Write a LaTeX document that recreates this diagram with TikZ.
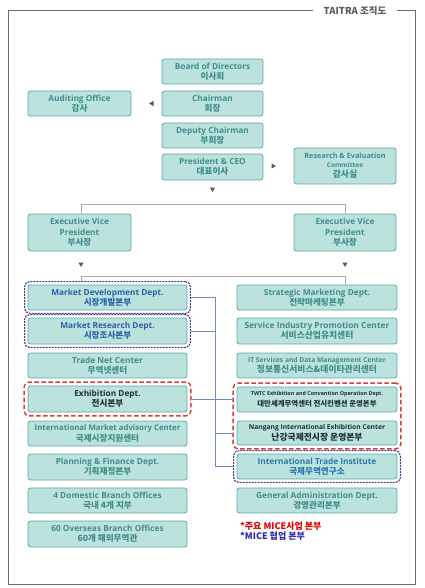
\documentclass[tikz,border=0pt]{standalone}
\usepackage{fontspec}
\setmainfont{Open Sans}
\newfontfamily\krf{Noto Sans CJK KR}
\usetikzlibrary{fit,shapes.geometric}
\definecolor{boxfill}{HTML}{BCE2DE}
\definecolor{boxdraw}{HTML}{5EA9A4}
\definecolor{tealtxt}{HTML}{3F8E8A}
\definecolor{bluetxt}{HTML}{2B62A8}
\definecolor{darktxt}{HTML}{1C3034}
\definecolor{itibl}{HTML}{2A78B0}
\definecolor{purp}{HTML}{45358A}
\definecolor{redd}{HTML}{D93A3A}
\definecolor{conn}{HTML}{6F8FB6}
\definecolor{greyl}{HTML}{A8A8A8}
\definecolor{frame}{HTML}{6A6A6A}
\newcommand\en[2][8.3]{{\fontsize{#1}{10}\selectfont #2}}
\newcommand\kr[2][8.6]{{\krf\bfseries\fontsize{#1}{10}\selectfont #2}}
\tikzset{
  box/.style={draw=boxdraw, fill=boxfill, line width=0.8pt, rounded corners=2.5pt,
    align=center, inner sep=0pt, text=tealtxt, font=\fontsize{8.3}{10.3}\selectfont\bfseries},
  topbox/.style={box, minimum width=101pt, minimum height=25pt},
  colbox/.style={box, minimum width=159pt, minimum height=25pt},
  rbox/.style={colbox, minimum width=160pt},
  purpframe/.style={draw=purp, dash pattern=on 2pt off 1pt, line width=1.1pt, rounded corners=5pt, inner sep=3pt},
  redframe/.style={draw=redd, dash pattern=on 4.5pt off 2.5pt, line width=1.4pt, rounded corners=5pt, inner sep=3.5pt},
  tri/.style={fill=black!65, isosceles triangle, isosceles triangle apex angle=60, inner sep=0pt, minimum height=4.5pt},
  gline/.style={draw=greyl, line width=0.7pt},
  bline/.style={draw=conn, line width=0.8pt}
}
\begin{document}
\begin{tikzpicture}[x=1pt,y=-1pt]
\useasboundingbox (0,0) rectangle (424,588);
% outer frame
\coordinate (f1) at (313,10.7);
\coordinate (f2) at (397,10.7);
\draw[draw=frame, line width=0.8pt] (f1) -- (8.3,10.7) -- (8.3,584) -- (415,584) -- (415,10.7) -- (f2);
\node[text=black!65, font=\krf\bfseries\fontsize{9.5}{10}\selectfont] (title) at (355,10.7) {TAITRA 조직도};

% top
\node[topbox] (board) at (212.5,71.5) {Board of Directors\\\kr{이사회}};
\node[topbox] (chair) at (212.5,103.5) {Chairman\\\kr{회장}};
\node[box, minimum width=103pt, minimum height=25pt] (audit) at (79.5,103.5) {Auditing Office\\\kr{감사}};
\node[topbox] (deputy) at (212.5,135.5) {Deputy Chairman\\\kr{부회장}};
\node[topbox, minimum height=26pt] (ceo) at (212.5,167) {President \& CEO\\\kr{대표이사}};
\node[box, minimum width=102pt, minimum height=36pt] (research) at (345,166) {\en[7.3]{Research \& Evaluation}\\[-1.5pt]\en[6.5]{Committee}\\\kr[8.8]{감사실}};
\node[tri, shape border rotate=180] (a1) at (152,103.5) {};
\node[tri] (a2) at (273,166) {};
\node[tri, shape border rotate=270] (a3) at (212.5,189) {};

\node[box, minimum width=103pt, minimum height=37pt] (evpL) at (79.5,232.5) {Executive Vice\\President\\\kr{부사장}};
\node[box, minimum width=102pt, minimum height=37pt] (evpR) at (345,232.5) {Executive Vice\\President\\\kr{부사장}};
\coordinate (h1L) at (81,204);
\coordinate (h1R) at (345,204);
\draw[gline] (evpL.north -| h1L) -- (h1L) -- (h1R) -- (evpR.north -| h1R);
\node[tri, shape border rotate=270] (a4) at (81,264) {};
\node[tri, shape border rotate=270] (a5) at (345,264) {};

% left column
\node[colbox, text=bluetxt] (mdev) at (107.5,297.5) {Market Development Dept.\\\kr{시장개발본부}};
\node[colbox, text=bluetxt, minimum height=26pt] (mres) at (107.5,331) {Market Research Dept.\\\kr{시장조사본부}};
\node[colbox] (tnet) at (107.5,365.5) {Trade Net Center\\\kr{무역넷센터}};
\node[colbox, text=darktxt, minimum height=26pt] (exh) at (107.5,399) {Exhibition Dept.\\\kr{전시본부}};
\node[colbox] (imac) at (107.5,433.5) {\en[7.8]{International Market advisory Center}\\\kr{국제시장지원센터}};
\node[colbox, minimum height=26pt] (pf) at (107.5,467) {Planning \& Finance Dept.\\\kr{기획재정본부}};
\node[colbox] (dom) at (107.5,500.5) {4 Domestic Branch Offices\\\kr{국내 4개 지부}};
\node[colbox, minimum height=26pt] (ovs) at (107.5,534) {60 Overseas Branch Offices\\\kr{60개 해외무역관}};

% right column
\node[rbox] (smkt) at (317,297.5) {Strategic Marketing Dept.\\\kr{전략마케팅본부}};
\node[rbox, minimum height=26pt] (svc) at (317,331) {\en[8.4]{Service Industry Promotion Center}\\\kr[8.8]{서비스산업유치센터}};
\node[rbox] (it) at (317,365.5) {\en[6.7]{IT Services and Data Management Center}\\\kr[8.8]{정보통신서비스\&데이타관리센터}};
\node[rbox, text=darktxt] (twtc) at (317,399.5) {\en[5.4]{TWTC Exhibition and Convention Operation Dept.}\\[0.5pt]\kr[7.4]{대만세계무역센터 전시컨벤션 운영본부}};
\node[rbox, text=darktxt, minimum height=24pt] (nang) at (317,433) {\en[6.7]{Nangang International Exhibition Center}\\[0.5pt]\kr[8.8]{난강국제전시장 운영본부}};
\node[rbox, text=itibl] (iti) at (317,466.5) {\en[8.3]{International Trade Institute}\\\kr{국제무역연구소}};
\node[rbox] (gad) at (317,500.5) {\en[8.3]{General Administration Dept.}\\\kr{경영관리본부}};

% frames
\node[purpframe, fit=(mdev)] (fmdev) {};
\node[purpframe, fit=(mres)] (fmres) {};
\node[redframe, fit=(exh)] (fexh) {};
\node[redframe, fit=(twtc)(nang)] (fred) {};
\node[purpframe, fit=(iti)] (fiti) {};

% grey connectors to columns
\coordinate (h2L) at (81,276);
\coordinate (h2R) at (345,276);
\draw[gline] (fmdev.north -| h2L) -- (h2L) -- (h2R) -- (smkt.north -| h2R);

% blue connectors
\coordinate (vt) at (215,297.5);
\coordinate (vb) at (215,466.5);
\draw[bline] (fmdev.east |- vt) -- (vt) -- (vb) -- (fiti.west |- vb);
\draw[bline] (fmres.east) -- (fmres.east -| vt);
\draw[bline] (fexh.east |- exh.east) -- (fred.west |- exh.east);
\draw[bline] (vt |- nang.west) -- (fred.west |- nang.west);

% legend
\node[anchor=west, text=red!90!black, font=\krf\bfseries\fontsize{9}{10}\selectfont, inner sep=0pt] (leg1) at (240,526.5) {*주요 MICE사업 본부};
\node[anchor=west, text=purp!70!blue, font=\krf\bfseries\fontsize{9}{10}\selectfont, inner sep=0pt] (leg2) at (240,536.5) {*MICE 협업 본부};
\end{tikzpicture}
\end{document}
